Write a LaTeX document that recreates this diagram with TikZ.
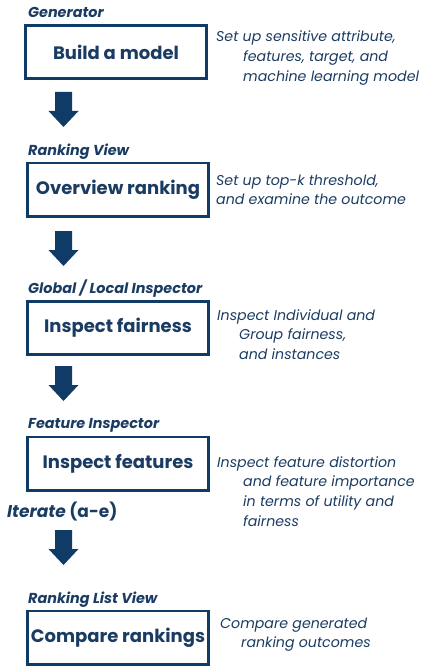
\documentclass[tikz,border=0pt]{standalone}
\usepackage{fontspec}
\setmainfont{Poppins}
\usetikzlibrary{calc}
\definecolor{navy}{HTML}{0F3B66}
\definecolor{txt}{HTML}{1B3C62}
\tikzset{
  box/.style={draw=navy, line width=2.6pt, minimum width=181.4pt, minimum height=53.4pt, inner sep=0pt, text=txt, font=\fontsize{18}{22}\selectfont\bfseries},
  head/.style={anchor=base west, inner sep=0pt, text=txt, font=\fontsize{14.4}{16}\selectfont\bfseries\itshape},
  desc/.style={anchor=base west, inner sep=0pt, text=txt, font=\fontsize{14.2}{19.7}\selectfont\itshape},
  downarr/.pic={\fill[navy] (-8.5,0) -- (8.5,0) -- (8.5,19) -- (15,19) -- (0,35) -- (-15,19) -- (-8.5,19) -- cycle;}
}
\begin{document}
\begin{tikzpicture}[x=1pt,y=-1pt]
\useasboundingbox (0,0) rectangle (424,666);
% headers
\node[head] (h1) at (28,18) {Generator};
\node[head] (h2) at (28,155) {Ranking View};
\node[head] (h3) at (28,293) {Global / Local Inspector};
\node[head] (h4) at (28,428) {Feature Inspector};
\node[head] (h5) at (28,603) {Ranking List View};
% boxes
\node[box] (b1) at (116,52) {Build a model};
\node[box] (b2) at (118,189.5) {Overview ranking};
\node[box] (b3) at (118,328) {Inspect fairness};
\node[box] (b4) at (118,463.5) {Inspect features};
\node[box] (b5) at (118,637.5) {Compare rankings};
% descriptions
\node[desc] (d1) at (216,42) {\begin{tabular}[t]{@{}l@{}}Set up sensitive attribute,\\\hspace*{27pt}features, target, and\\\hspace*{27pt}machine learning model\end{tabular}};
\node[desc] (d2) at (216,185) {\begin{tabular}[t]{@{}l@{}}Set up top-k threshold,\\and examine the outcome\end{tabular}};
\node[desc] (d3) at (217,320) {\begin{tabular}[t]{@{}l@{}}Inspect Individual and\\\hspace*{22pt}Group fairness,\\\hspace*{22pt}and instances\end{tabular}};
\node[desc] (d4) at (217,467) {\begin{tabular}[t]{@{}l@{}}Inspect feature distortion\\\hspace*{26pt}and feature importance\\\hspace*{26pt}in terms of utility and\\\hspace*{26pt}fairness\end{tabular}};
\node[desc] (d5) at (220,628) {\begin{tabular}[t]{@{}l@{}}Compare generated\\\hspace*{21pt}ranking outcomes\end{tabular}};
% iterate
\node[anchor=base west, inner sep=0pt, text=txt, font=\fontsize{17}{22}\selectfont\bfseries] (it) at (7,517) {\textit{Iterate} (a-e)};
% arrows
\pic at (63.5,92) {downarr};
\pic at (63.5,231) {downarr};
\pic at (63.5,366) {downarr};
\pic at (63.5,530) {downarr};
\end{tikzpicture}
\end{document}
